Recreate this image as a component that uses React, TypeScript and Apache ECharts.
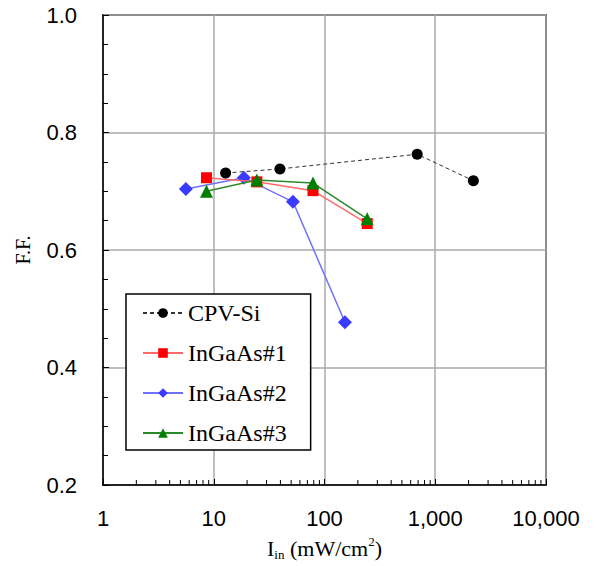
import React, { useEffect, useRef } from "react";
import * as echarts from "echarts";

const seriesNames = ["CPV-Si", "InGaAs#1", "InGaAs#2", "InGaAs#3"];
const cpvX = [12.8, 39.6, 687, 2208];
const cpvY = [0.731, 0.738, 0.763, 0.718];
const ingaas1X = [8.6, 24.5, 78.7, 243];
const ingaas1Y = [0.723, 0.716, 0.701, 0.645];
const ingaas2X = [5.6, 18.7, 51.9, 153];
const ingaas2Y = [0.704, 0.723, 0.682, 0.477];
const ingaas3X = [8.6, 24.5, 78.7, 243];
const ingaas3Y = [0.700, 0.719, 0.714, 0.653];
const xMinorTicks = [2, 3, 4, 5, 6, 7, 8, 9, 20, 30, 40, 50, 60, 70, 80, 90, 200, 300, 400, 500, 600, 700, 800, 900, 2000, 3000, 4000, 5000, 6000, 7000, 8000, 9000];

const SERIF = "Liberation Serif";
const SANS = "Liberation Sans";

const zip = (xs: number[], ys: number[]) => xs.map((x, i) => [x, ys[i]]);

export default function App() {
  const ref = useRef<HTMLDivElement>(null);
  useEffect(() => {
    if (!ref.current) return;
    const chart = echarts.init(ref.current, null, { renderer: "svg" });
    const option: any = {
      animation: false,
      backgroundColor: "#fff",
      grid: {
        left: 103,
        right: 50,
        top: 15,
        bottom: 78,
        show: true,
        borderColor: "#000",
        borderWidth: 1.5,
        backgroundColor: "transparent",
      },
      legend: {
        data: seriesNames,
        orient: "vertical",
        left: 126,
        top: 294,
        backgroundColor: "#fff",
        borderColor: "#000",
        borderWidth: 1.5,
        borderRadius: 0,
        padding: [7, 24, 5, 16],
        itemWidth: 40,
        itemHeight: 12,
        itemGap: 16,
        textStyle: { fontFamily: SERIF, fontSize: 24, color: "#000" },
      },
      xAxis: {
        type: "log",
        logBase: 10,
        min: 1,
        max: 10000,
        name: "{n|I}{sub|in}{n| (mW/cm}{sup|2}{n|)}",
        nameLocation: "middle",
        nameGap: 50,
        nameTextStyle: {
          fontFamily: SERIF,
          fontSize: 22,
          color: "#000",
          rich: {
            n: { fontFamily: SERIF, fontSize: 22, color: "#000", lineHeight: 26, verticalAlign: "middle" },
            sub: { fontFamily: SERIF, fontSize: 13, color: "#000", lineHeight: 26, verticalAlign: "bottom" },
            sup: { fontFamily: SERIF, fontSize: 13, color: "#000", lineHeight: 26, verticalAlign: "top" },
          },
        },
        axisLine: { show: true, lineStyle: { color: "#000", width: 1.5 } },
        axisTick: { show: true, inside: true, length: 6, lineStyle: { color: "#000" } },
        minorTick: { show: false },
        splitLine: { show: true, lineStyle: { color: "#aaa", width: 1.5 } },
        axisLabel: {
          fontFamily: SANS,
          fontSize: 22,
          color: "#000",
          margin: 22,
          formatter: (v: number) => Math.round(v).toLocaleString("en-US"),
        },
      },
      yAxis: {
        type: "value",
        min: 0.2,
        max: 1.0,
        interval: 0.2,
        name: "F.F.",
        nameLocation: "middle",
        nameGap: 70,
        nameRotate: 90,
        nameTextStyle: { fontFamily: SERIF, fontSize: 20, color: "#000" },
        axisLine: { show: true, lineStyle: { color: "#000", width: 1.5 } },
        axisTick: { show: true, inside: true, length: 6, lineStyle: { color: "#000" } },
        minorTick: { show: true, splitNumber: 4, length: 5, lineStyle: { color: "#000" } },
        splitLine: { show: true, lineStyle: { color: "#aaa", width: 1.5 } },
        axisLabel: {
          fontFamily: SANS,
          fontSize: 22,
          color: "#000",
          margin: 26,
          formatter: (v: number) => v.toFixed(1),
        },
      },
      series: [
        {
          type: "custom",
          name: "xminor",
          silent: true,
          data: xMinorTicks.map((v) => [v, 0.2]),
          encode: { x: 0, y: 1 },
          clip: false,
          renderItem: (params: any, api: any) => {
            const p = api.coord([api.value(0), api.value(1)]);
            return {
              type: "line",
              shape: { x1: p[0], y1: p[1], x2: p[0], y2: p[1] - 5 },
              style: { stroke: "#000", lineWidth: 1 },
            };
          },
          z: 1,
        },
        {
          name: seriesNames[0],
          type: "line",
          data: zip(cpvX, cpvY),
          symbol: "circle",
          symbolSize: 11,
          itemStyle: { color: "#000" },
          lineStyle: { color: "#333", width: 1, type: [4, 3] },
          z: 5,
        },
        {
          name: seriesNames[1],
          type: "line",
          data: zip(ingaas1X, ingaas1Y),
          symbol: "rect",
          symbolSize: 11,
          itemStyle: { color: "#ff0000" },
          lineStyle: { color: "#ff6a6a", width: 1.5 },
          z: 4,
        },
        {
          name: seriesNames[2],
          type: "line",
          data: zip(ingaas2X, ingaas2Y),
          symbol: "diamond",
          symbolSize: 14,
          itemStyle: { color: "#3b3bff" },
          lineStyle: { color: "#7070ff", width: 1.5 },
          z: 3,
        },
        {
          name: seriesNames[3],
          type: "line",
          data: zip(ingaas3X, ingaas3Y),
          symbol: "triangle",
          symbolSize: 13,
          itemStyle: { color: "#008000" },
          lineStyle: { color: "#2a8a2a", width: 1.5 },
          z: 6,
        },
      ],
    };
    chart.setOption(option);
    return () => chart.dispose();
  }, []);
  return (
    <div
      ref={ref}
      style={{ position: "fixed", left: 0, top: 0, width: 596, height: 566, background: "#fff" }}
    />
  );
}
